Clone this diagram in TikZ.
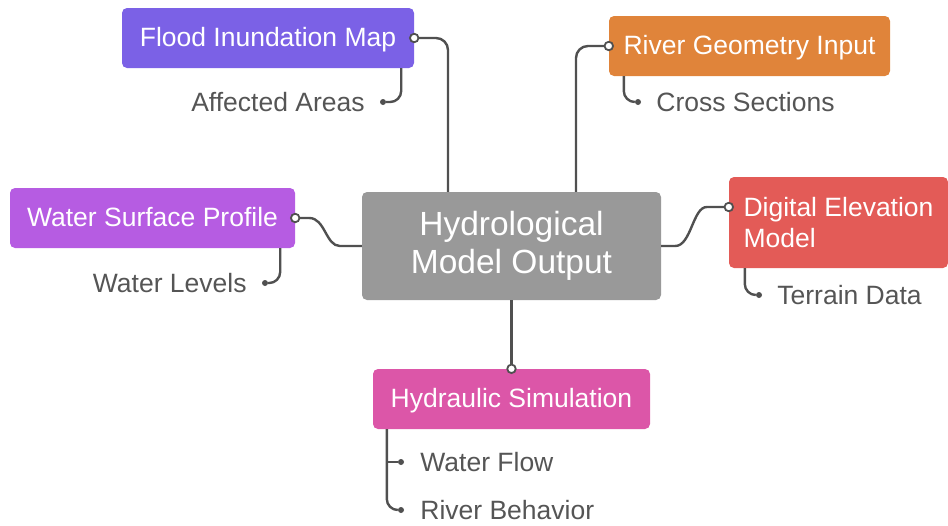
\documentclass[tikz,border=0pt]{standalone}
\usepackage{fontspec}
\setmainfont{Liberation Sans}
\usepackage{tikz}
\usetikzlibrary{positioning,calc}
\definecolor{floodc}{HTML}{7B61E6}
\definecolor{geomc}{HTML}{E0843A}
\definecolor{profc}{HTML}{B65CE2}
\definecolor{demc}{HTML}{E35B57}
\definecolor{simc}{HTML}{DC56A8}
\definecolor{hubc}{HTML}{999999}
\definecolor{linec}{HTML}{505050}
\definecolor{leafc}{HTML}{555555}
\tikzset{
  topic/.style={rounded corners=5pt,inner sep=0pt,text=white,align=center,
    font=\fontsize{26.5}{31}\selectfont,minimum height=60pt},
  onerow/.style={text height=19pt,text depth=2pt},
  hub/.style={topic,fill=hubc,minimum width=299pt,minimum height=108pt,
    font=\fontsize{33.5}{38}\selectfont},
  leaf/.style={inner sep=0pt,text=leafc,font=\fontsize{26.5}{31}\selectfont},
  leafdot/.style={circle,fill=linec,inner sep=0pt,minimum size=6pt},
  port/.style={circle,draw=linec,fill=white,line width=1.8pt,inner sep=0pt,minimum size=8.5pt},
  link/.style={draw=linec,line width=2.4pt},
  twig/.style={link,rounded corners=11pt},
}

\begin{document}
\begin{tikzpicture}[x=1pt,y=-1pt]
  \useasboundingbox (0,0) rectangle (948,525);

  % --- hub and topics ---
  \node[hub] (hub) at (511.5,246) {Hydrological\\Model Output};
  \node[topic,onerow,fill=floodc,minimum width=292pt] (flood) at (268,38) {Flood Inundation Map};
  \node[topic,onerow,fill=geomc,minimum width=281pt] (geom) at (749.5,46) {River Geometry Input};
  \node[topic,onerow,fill=profc,minimum width=285pt] (prof) at (152.5,218) {Water Surface Profile};
  \node[topic,fill=demc,minimum width=219pt,minimum height=91pt,align=left] (dem) at (838.5,222.5)
    {Digital Elevation\\Model};
  \node[topic,onerow,fill=simc,minimum width=277pt] (sim) at (511.5,399) {Hydraulic Simulation};

  % --- leaves ---
  \node[leafdot] (aadot) at (383,102) {};
  \node[leaf,left=15pt of aadot] (aa) {Affected Areas};
  \node[leafdot] (csdot) at (638,102) {};
  \node[leaf,right=15pt of csdot] (cs) {Cross Sections};
  \node[leafdot] (wldot) at (265,283) {};
  \node[leaf,left=15pt of wldot] (wl) {Water Levels};
  \node[leafdot] (tddot) at (759,295) {};
  \node[leaf,right=15pt of tddot] (td) {Terrain Data};
  \node[leafdot] (wfdot) at (401,462) {};
  \node[leaf,right=16pt of wfdot] (wf) {Water Flow};
  \node[leafdot] (rbdot) at (401,510) {};
  \node[leaf,right=16pt of rbdot] (rb) {River Behavior};

  % --- links to the hub ---
  \draw[link,rounded corners=12pt] (flood.east) -| ([xshift=-63.5pt]hub.north);
  \draw[link,rounded corners=12pt] (geom.west) -| ([xshift=64.5pt]hub.north);
  \draw[link] (prof.east) -- ++(14,0) .. controls +(16,0) and ([xshift=-36pt]hub.west) .. ([xshift=-22pt]hub.west)
    -- (hub.west);
  \draw[link] (hub.east) -- ++(14,0) .. controls +(16,0) and ([xshift=-36pt,yshift=15.5pt]dem.west)
    .. ([xshift=-22pt,yshift=15.5pt]dem.west) -- ([yshift=15.5pt]dem.west);
  \draw[link] (hub.south) -- (sim.north);

  % --- twigs to the leaves ---
  \draw[twig] ([xshift=-13pt]flood.south east) |- (aadot);
  \draw[twig] ([xshift=15pt]geom.south west) |- (csdot);
  \draw[twig] ([xshift=-15pt]prof.south east) |- (wldot);
  \draw[twig] ([xshift=16pt]dem.south west) |- (tddot);
  \coordinate (simstem) at ([xshift=14pt]sim.south west);
  \draw[twig] (simstem) |- (rbdot);
  \draw[link] (simstem |- wfdot) -- (wfdot);

  % --- ports ---
  \node[port] at (flood.east) {};
  \node[port] at (geom.west) {};
  \node[port] at (prof.east) {};
  \node[port] at ([yshift=15.5pt]dem.west) {};
  \node[port] at (sim.north) {};
\end{tikzpicture}
\end{document}
